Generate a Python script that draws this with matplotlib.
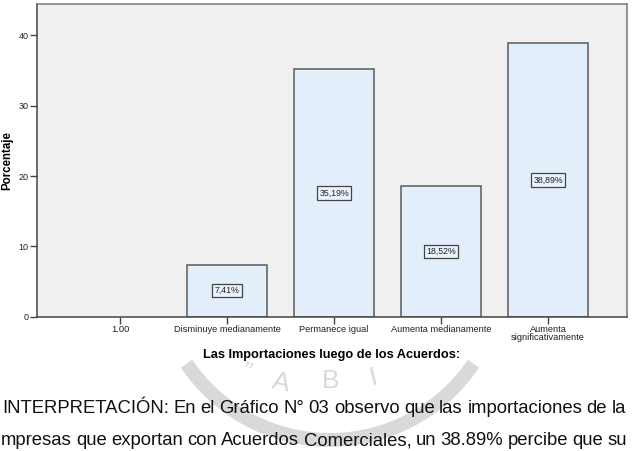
import numpy as np
import matplotlib
matplotlib.use("Agg")
import matplotlib.pyplot as plt
from matplotlib.patches import Arc

categories = ["1.00", "Disminuye medianamente", "Permanece igual",
              "Aumenta medianamente", "Aumenta\nsignificativamente"]
percent = [0.0, 7.41, 35.19, 18.52, 38.89]
bar_labels = ["", "7,41%", "35,19%", "18,52%", "38,89%"]
yticks = [0, 10, 20, 30, 40]

body_lines = [
    "INTERPRETACIÓN: En el Gráfico N° 03 observo que las importaciones de la",
    "mpresas que exportan con Acuerdos Comerciales, un 38.89% percibe que su",
]

plt.rcParams['font.family'] = ['Liberation Sans', 'DejaVu Sans']

W, H = 632, 451
fig = plt.figure(figsize=(W / 100, H / 100), dpi=100)
fig.patch.set_facecolor("white")

# background layer in pixel coordinates (watermark + body text)
bg = fig.add_axes([0, 0, 1, 1], zorder=0)
bg.set_xlim(0, W)
bg.set_ylim(H, 0)
bg.axis("off")

wm = "#d9d9d9"
bg.add_patch(Arc((330, 267), 346, 346, theta1=34, theta2=146,
                 color=wm, lw=10, zorder=1))
for ch, (x, y, r) in zip(["\u201d", "A", "B", "I"],
                         [(245, 372, -25), (281, 383, -12), (331, 381, 0),
                          (373, 377, 14)]):
    bg.text(x, y, ch, fontsize=19, color=wm, rotation=r,
            ha="center", va="center", zorder=1)

# main chart
ax = fig.add_axes([37 / W, 1 - 316.8 / H, 590 / W, 312.5 / H], zorder=2)
ax.set_facecolor("#f0f0f0")
x = np.arange(len(categories))
shown = [i for i, v in enumerate(percent) if v > 0]
ax.bar(x[shown], [percent[i] for i in shown], width=0.75, color="#e3eefb",
       edgecolor="#5a5a5a", linewidth=1.1, zorder=2)
for xi, v, lab in zip(x, percent, bar_labels):
    if lab:
        ax.text(xi, v / 2, lab, ha="center", va="center", fontsize=6.3,
                color="#222222", zorder=3,
                bbox=dict(boxstyle="square,pad=0.25", fc="#eaf2fb",
                          ec="#444444", lw=0.9))

ax.set_xlim(-0.776, 4.738)
ax.set_ylim(0, 44.4)
ax.set_yticks(yticks)
ax.set_xticks(x)
ax.set_xticklabels(categories, fontsize=6.7, linespacing=0.9)
ax.tick_params(axis="y", labelsize=6.5, length=5, width=1, color="#444444",
               pad=1, labelcolor="#222222")
ax.tick_params(axis="x", length=5, width=1, color="#444444", pad=1,
               labelcolor="#222222")
for sp in ax.spines.values():
    sp.set_color("#777777")
    sp.set_linewidth(1.1)
ax.spines["left"].set_color("#444444")
ax.spines["bottom"].set_color("#444444")

ax.set_ylabel("Porcentaje", fontsize=8.3, fontweight="bold", labelpad=4)
ax.set_xlabel("Las Importaciones luego de los Acuerdos:", fontsize=9.2,
              fontweight="bold", labelpad=5)

# justified body text
renderer = fig.canvas.get_renderer()
line_specs = [(2, 626, 413), (1, 627, 445)]
for line, (x0, x1, yb) in zip(body_lines, line_specs):
    words = line.split(" ")
    texts = [bg.text(0, yb, w_, fontsize=13.3, color="#111111",
                     ha="left", va="baseline", zorder=3) for w_ in words]
    widths = [t.get_window_extent(renderer).width for t in texts]
    gap = (x1 - x0 - sum(widths)) / (len(words) - 1)
    pos = x0
    for t, wd in zip(texts, widths):
        t.set_x(pos)
        pos += wd + gap

fig.savefig("out.png", dpi=100, facecolor="white")
